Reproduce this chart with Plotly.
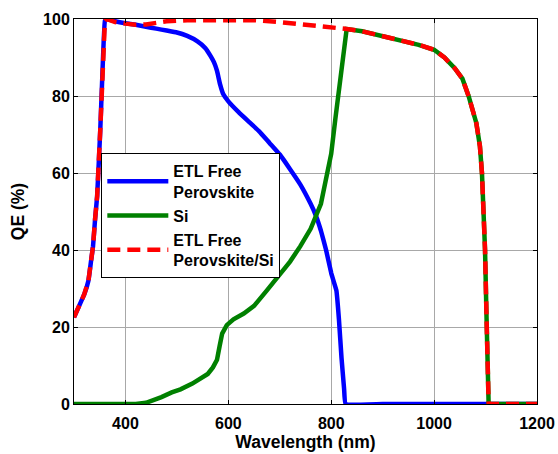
import plotly.graph_objects as go

# Perovskite (ETL free)
wl_pvk = [300, 310, 320, 328, 333, 337, 341, 345, 351, 355, 360, 363, 380, 400, 420, 440, 460, 480,
          500, 520, 540, 555, 565, 572, 578, 584, 590, 600, 620, 640, 660, 680, 700, 720, 740,
          760, 770, 780, 790, 800, 810, 815, 820, 825, 828, 900, 1000, 1100, 1200]
qe_pvk = [22.5, 25.5, 28.5, 32, 37, 41, 48, 54, 71, 85, 99.5, 100, 99.4, 98.9, 98.5, 98, 97.5, 97,
          96.5, 95.6, 94.2, 92.5, 90.5, 88.8, 86.5, 83, 80.5, 78.6, 75.8, 73.3, 70.8, 67.8, 64.8, 61, 57,
          52, 49, 45, 40, 34, 29.5, 22, 12, 4, 0, 0, 0, 0, 0]

# Si
wl_si = [300, 420, 440, 450, 470, 490, 507, 530, 550, 560, 570, 578, 583, 588, 597, 610, 630, 650,
         675, 700, 720, 740, 760, 780, 790, 800, 808, 815, 820, 825, 830, 860, 900, 940, 970, 1000,
         1020, 1040, 1055, 1067, 1075, 1082, 1089, 1093, 1096, 1099, 1102, 1105, 1106, 1200]
qe_si = [0, 0, 0.3, 0.7, 1.8, 3, 3.8, 5.3, 6.8, 7.8, 9.5, 11.5, 15, 18.3, 20.5, 22, 23.5, 25.5,
         29.5, 33.5, 37, 41, 45.5, 52, 58, 65, 74, 82, 88, 93, 97.4, 96.8, 95.6, 94.4, 93.3, 92,
         90, 87.2, 84.5, 80, 76.5, 73, 67, 60, 50, 40, 22, 3, 0, 0]

# Tandem (ETL free perovskite / Si)
wl_tan = [300, 310, 320, 328, 333, 337, 341, 345, 351, 355, 360, 363, 380, 400, 420, 440, 460, 480,
          520, 600, 650, 700, 750, 800, 830, 860, 900, 940, 970, 1000, 1020, 1040, 1055, 1067, 1075,
          1082, 1089, 1093, 1096, 1099, 1102, 1105, 1106, 1200]
qe_tan = [22.5, 25.5, 28.5, 32, 37, 41, 48, 54, 71, 85, 99.5, 100, 99.2, 98.8, 98.5, 98.6, 99, 99.4,
          99.7, 99.8, 99.7, 99.2, 98.6, 97.9, 97.4, 96.8, 95.6, 94.4, 93.3, 92, 90, 87.2, 84.5, 80, 76.5,
          73, 67, 60, 50, 40, 22, 3, 0, 0]

names = ["ETL Free<br>Perovskite", "Si", "ETL Free<br>Perovskite/Si"]
x_ticks = [400, 600, 800, 1000, 1200]
y_ticks = [0, 20, 40, 60, 80, 100]

FONT = "Arial, Liberation Sans, sans-serif"

fig = go.Figure()
fig.add_trace(go.Scatter(x=wl_pvk, y=qe_pvk, mode="lines", name=names[0],
                         line=dict(color="#0000ff", width=4.5, shape="spline", smoothing=0.3)))
fig.add_trace(go.Scatter(x=wl_si, y=qe_si, mode="lines", name=names[1],
                         line=dict(color="#008000", width=4.5)))
fig.add_trace(go.Scatter(x=wl_tan, y=qe_tan, mode="lines", name=names[2],
                         line=dict(color="#ff0000", width=4.5, dash="13px,7px")))

axis_common = dict(
    showline=True, linecolor="black", linewidth=1, mirror="ticks",
    ticks="inside", ticklen=4, tickcolor="black",
    showgrid=True, gridcolor="#a8a8a8", gridwidth=1,
    zeroline=False, automargin=False,
    tickfont=dict(family=FONT, size=16, color="black", weight="bold"),
)

fig.update_xaxes(range=[300, 1200], tickvals=x_ticks, ticklabelstandoff=5,
                 title=dict(text="Wavelength (nm)", standoff=2,
                            font=dict(family=FONT, size=17.5, color="black", weight="bold")),
                 **axis_common)
fig.update_yaxes(range=[0, 100], tickvals=y_ticks,
                 title=dict(text="QE (%)", standoff=13,
                            font=dict(family=FONT, size=17.5, color="black", weight="bold")),
                 **axis_common)

fig.update_layout(
    width=558, height=454,
    margin=dict(l=74, r=21, t=19, b=50),
    paper_bgcolor="white", plot_bgcolor="white",
    showlegend=True,
    legend=dict(x=0.059, y=0.652, xanchor="left", yanchor="top",
                bgcolor="white", bordercolor="black", borderwidth=1,
                font=dict(family=FONT, size=16, color="black", weight="bold"),
                itemwidth=61, tracegroupgap=0),
)

fig.write_html("out.html", config={"displayModeBar": False},
               post_script="document.body.style.margin='0';document.body.style.overflow='hidden';")
